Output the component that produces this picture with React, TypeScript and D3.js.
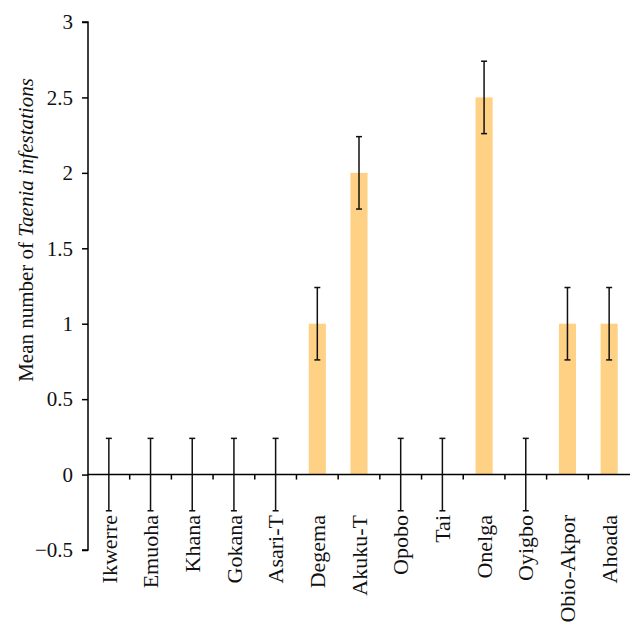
import { useEffect, useRef } from 'react';
import * as d3 from 'd3';

const districts = [
  'Ikwerre', 'Emuoha', 'Khana', 'Gokana', 'Asari-T', 'Degema', 'Akuku-T',
  'Opobo', 'Tai', 'Onelga', 'Oyigbo', 'Obio-Akpor', 'Ahoada',
];
const means = [0, 0, 0, 0, 0, 1, 2, 0, 0, 2.5, 0, 1, 1];
const errors = [0.24, 0.24, 0.24, 0.24, 0.24, 0.24, 0.24, 0.24, 0.24, 0.24, 0.24, 0.24, 0.24];
const yTicks = [-0.5, 0, 0.5, 1, 1.5, 2, 2.5, 3];

const App = () => {
  const svgRef = useRef<SVGSVGElement>(null);

  useEffect(() => {
    const svg = d3.select(svgRef.current);
    svg.selectAll('*').remove();

    const font = '"Liberation Serif", serif';
    const left = 88;
    const right = 630;
    const top = 22;
    const bottom = 550;

    const x = d3.scaleBand().domain(districts).range([left, right]).paddingInner(0.59).paddingOuter(0.295);
    const xb = d3.scaleBand().domain(districts).range([left, right]);
    const y = d3.scaleLinear().domain([-0.5, 3]).range([bottom, top]);

    // bars
    svg
      .append('g')
      .selectAll('rect')
      .data(districts)
      .enter()
      .append('rect')
      .attr('x', (d) => x(d)!)
      .attr('width', x.bandwidth())
      .attr('y', (d, i) => y(Math.max(0, means[i])))
      .attr('height', (d, i) => Math.abs(y(means[i]) - y(0)))
      .attr('fill', '#fed185');

    // y axis
    const yAxis = svg
      .append('g')
      .attr('transform', `translate(${left},0)`)
      .call(d3.axisLeft(y).tickValues(yTicks).tickSize(6).tickFormat((d) => {
        const v = +d;
        return v < 0 ? '\u2212' + Math.abs(v) : String(v);
      }));
    yAxis.select('.domain').attr('stroke', '#000').attr('stroke-width', 1.5).attr('d', `M-6,${y(3)}H0V${y(-0.5)}H-6`);
    yAxis.selectAll('line').attr('stroke-width', 1.5);
    yAxis.selectAll('text').attr('font-family', font).attr('font-size', 21).attr('fill', '#111').attr('x', -15);

    // x axis at zero
    const xAxis = svg.append('g').attr('transform', `translate(0,${y(0)})`);
    xAxis.append('line').attr('x1', left).attr('x2', right).attr('stroke', '#000').attr('stroke-width', 1.5);
    xAxis
      .selectAll('line.tk')
      .data(districts.slice(1))
      .enter()
      .append('line')
      .attr('class', 'tk')
      .attr('x1', (d) => xb(d)!)
      .attr('x2', (d) => xb(d)!)
      .attr('y1', 0)
      .attr('y2', 5)
      .attr('stroke', '#000')
      .attr('stroke-width', 1.5);

    // error bars
    const eb = svg.append('g').attr('stroke', '#111').attr('stroke-width', 1.5);
    districts.forEach((d, i) => {
      const cx = xb(d)! + xb.bandwidth() / 2;
      const hi = y(means[i] + errors[i]);
      const lo = y(means[i] - errors[i]);
      eb.append('line').attr('x1', cx).attr('x2', cx).attr('y1', hi).attr('y2', lo);
      eb.append('line').attr('x1', cx - 3).attr('x2', cx + 3).attr('y1', hi).attr('y2', hi);
      eb.append('line').attr('x1', cx - 3).attr('x2', cx + 3).attr('y1', lo).attr('y2', lo);
    });

    // category labels
    svg
      .append('g')
      .selectAll('text')
      .data(districts)
      .enter()
      .append('text')
      .attr('transform', (d) => `translate(${xb(d)! + xb.bandwidth() / 2},515) rotate(-90)`)
      .attr('text-anchor', 'end')
      .attr('dy', '0.35em')
      .attr('font-family', font)
      .attr('font-size', 22)
      .attr('fill', '#111')
      .text((d) => d);

    // y label
    const yl = svg
      .append('text')
      .attr('transform', `translate(33,230) rotate(-90)`)
      .attr('text-anchor', 'middle')
      .attr('font-family', font)
      .attr('font-size', 21)
      .attr('fill', '#111');
    yl.append('tspan').text('Mean number of ');
    yl.append('tspan').attr('font-style', 'italic').text('Taenia infestations');
  }, []);

  return (
    <svg
      ref={svgRef}
      width={644}
      height={636}
      style={{ position: 'absolute', left: 0, top: 0, background: '#fff' }}
    />
  );
};

export default App;
